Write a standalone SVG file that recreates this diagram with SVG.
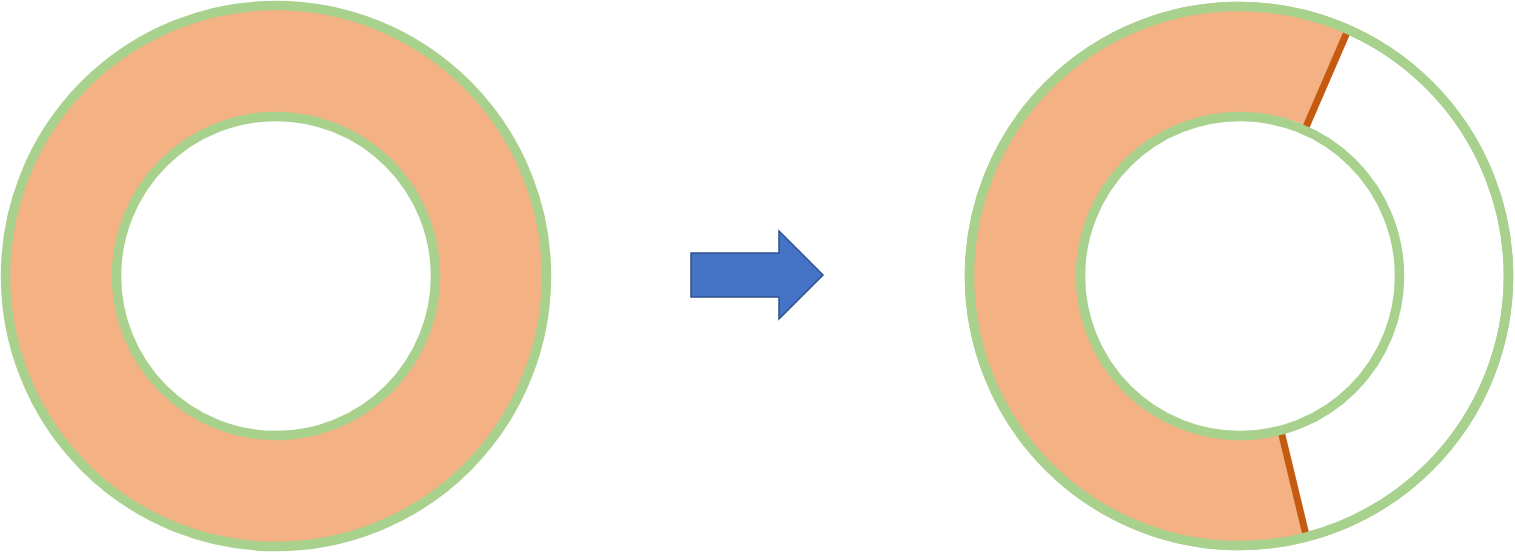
<svg xmlns="http://www.w3.org/2000/svg" width="1515" height="552" viewBox="0 0 1515 552">
<style>
.ring{stroke:#A9D18E;stroke-width:9.5}
.cut{stroke:#C55A11;stroke-width:7;fill:none}
</style>
<rect width="1515" height="552" fill="#FFFFFF"/>
<g id="left-ring">
<circle cx="276" cy="276" r="270.5" fill="#F4B183" class="ring"/>
<circle cx="276" cy="276" r="159.5" fill="#FFFFFF" class="ring"/>
</g>
<g id="arrow">
<polygon points="691,253 779,253 779,231 823,275 779,319 779,297 691,297" fill="#4472C4" stroke="#2F528F" stroke-width="1.5"/>
</g>
<g id="right-ring">
<circle cx="1239" cy="276" r="269.5" fill="#FFFFFF" class="ring"/>
<path d="M1348,31 A268,268 0 1 0 1306,535 L1281,432 A162,162 0 1 1 1307,126 Z" fill="#F4B183"/>
<line x1="1348" y1="30" x2="1306" y2="127" class="cut"/>
<line x1="1281" y1="431" x2="1306" y2="535" class="cut"/>
<circle cx="1239" cy="276" r="269.5" fill="none" class="ring"/>
<circle cx="1240" cy="276" r="159.5" fill="none" class="ring"/>
</g>
</svg>
